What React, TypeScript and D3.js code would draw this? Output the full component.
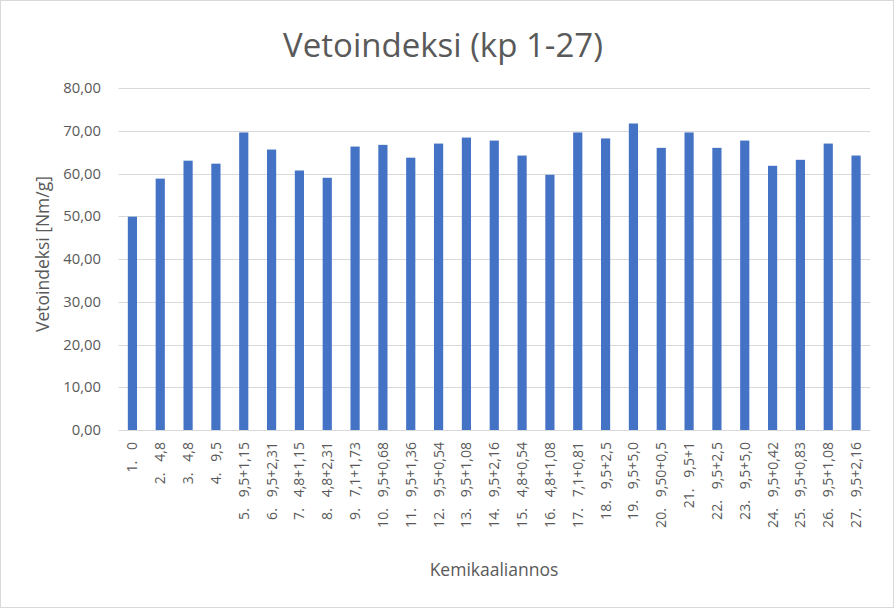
import React from "react";
import * as d3 from "d3";

const doses = ["0","4,8","4,8","9,5","9,5+1,15","9,5+2,31","4,8+1,15","4,8+2,31","7,1+1,73","9,5+0,68","9,5+1,36","9,5+0,54","9,5+1,08","9,5+2,16","4,8+0,54","4,8+1,08","7,1+0,81","9,5+2,5","9,5+5,0","9,50+0,5","9,5+1","9,5+2,5","9,5+5,0","9,5+0,42","9,5+0,83","9,5+1,08","9,5+2,16"];
const categories = doses.map((d, i) => `${i + 1}.   ${d}`);
const values = [49.9,58.8,63.0,62.3,69.6,65.6,60.7,59.0,66.3,66.7,63.7,67.0,68.4,67.7,64.2,59.7,69.6,68.2,71.7,66.0,69.6,66.0,67.7,61.8,63.2,67.0,64.2];
const yTicks = [0,10,20,30,40,50,60,70,80];
const title = "Vetoindeksi (kp 1-27)";
const yTitle = "Vetoindeksi [Nm/g]";
const xTitle = "Kemikaaliannos";

export default function App() {
  const W = 894, H = 608;
  const left = 118.5, right = 870, top = 88, bottom = 430;
  const x = d3.scaleBand<string>().domain(categories).range([left, right]).paddingInner(0.67).paddingOuter(0.335);
  const y = d3.scaleLinear().domain([0, 80]).range([bottom, top]);
  const font = "'Open Sans', 'Noto Sans', sans-serif";
  const fmt = (v: number) => v.toFixed(2).replace(".", ",");
  return (
    <svg width={W} height={H} style={{ position: "absolute", left: 0, top: 0, fontFamily: font }}>
      <rect x={0.5} y={0.5} width={W - 1} height={H - 1} fill="#fff" stroke="#d9d9d9" />
      <text x={443} y={57} textAnchor="middle" fontSize={33} fill="#595959">{title}</text>
      {yTicks.map(t => (
        <g key={t}>
          {t > 0 && <line x1={left} x2={right} y1={Math.round(y(t)) + 0.5} y2={Math.round(y(t)) + 0.5} stroke="#d9d9d9" strokeWidth={1} />}
          <text x={101} y={y(t)} dy="0.35em" textAnchor="end" fontSize={14.8} fill="#595959">{fmt(t)}</text>
        </g>
      ))}
      {categories.map((c, i) => (
        <rect key={c} x={x(c)} y={y(values[i])} width={x.bandwidth()} height={bottom - y(values[i])} fill="#4472c4" />
      ))}
      <line x1={left} x2={right} y1={bottom + 0.5} y2={bottom + 0.5} stroke="#d9d9d9" />
      {categories.map(c => {
        const cx = (x(c) as number) + x.bandwidth() / 2;
        return (
          <text key={c} transform={`translate(${cx + 5},${bottom + 12}) rotate(-90)`} textAnchor="end" fontSize={14} fill="#595959" style={{ whiteSpace: "pre" }}>{c}</text>
        );
      })}
      <text transform={`translate(49,254) rotate(-90)`} textAnchor="middle" fontSize={17.5} fill="#595959">{yTitle}</text>
      <text x={494} y={576} textAnchor="middle" fontSize={17.5} fill="#595959">{xTitle}</text>
    </svg>
  );
}
